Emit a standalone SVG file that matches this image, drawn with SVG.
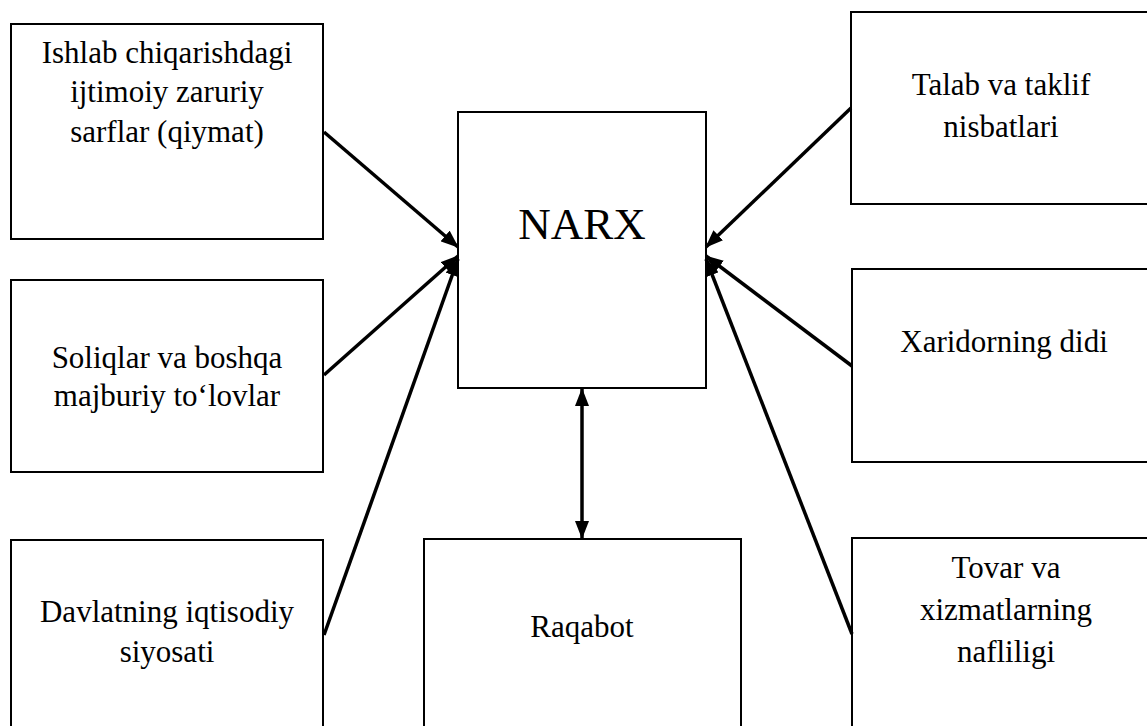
<svg xmlns="http://www.w3.org/2000/svg" width="1147" height="726" viewBox="0 0 1147 726">
  <style>
    .box { fill: #ffffff; stroke: #000000; stroke-width: 2; }
    .lbl { font-family: "Liberation Serif", "Times New Roman", serif; font-size: 31px; fill: #000000; text-anchor: middle; }
    .big { font-size: 45px; }
    .link { fill: none; stroke: #000000; stroke-width: 3.5; }
  </style>
  <defs>
    <marker id="head" viewBox="0 0 18 14" refX="17" refY="7" markerWidth="18" markerHeight="14" markerUnits="userSpaceOnUse" orient="auto-start-reverse">
      <path d="M0,0 L18,7 L0,14 z" fill="#000000"/>
    </marker>
  </defs>
  <rect width="1147" height="726" fill="#ffffff"/>

  <g id="node-cost">
    <rect class="box" x="11" y="24" width="312" height="215"/>
    <text class="lbl" x="167" y="63">Ishlab chiqarishdagi</text>
    <text class="lbl" x="167" y="102">ijtimoiy zaruriy</text>
    <text class="lbl" x="167" y="142">sarflar (qiymat)</text>
  </g>

  <g id="node-taxes">
    <rect class="box" x="11" y="280" width="312" height="192"/>
    <text class="lbl" x="167" y="368">Soliqlar va boshqa</text>
    <text class="lbl" x="167" y="406">majburiy to‘lovlar</text>
  </g>

  <g id="node-policy">
    <rect class="box" x="11" y="540" width="312" height="200"/>
    <text class="lbl" x="167" y="622">Davlatning iqtisodiy</text>
    <text class="lbl" x="167" y="662">siyosati</text>
  </g>

  <g id="node-price">
    <rect class="box" x="458" y="112" width="248" height="276"/>
    <text class="lbl big" x="582" y="239">NARX</text>
  </g>

  <g id="node-competition">
    <rect class="box" x="424" y="539" width="317" height="200"/>
    <text class="lbl" x="582" y="637">Raqabot</text>
  </g>

  <g id="node-supply-demand">
    <rect class="box" x="851" y="12" width="310" height="192"/>
    <text class="lbl" x="1001" y="95">Talab va taklif</text>
    <text class="lbl" x="1001" y="137">nisbatlari</text>
  </g>

  <g id="node-taste">
    <rect class="box" x="852" y="269" width="310" height="193"/>
    <text class="lbl" x="1004" y="352">Xaridorning didi</text>
  </g>

  <g id="node-utility">
    <rect class="box" x="852" y="538" width="310" height="200"/>
    <text class="lbl" x="1006" y="578">Tovar va</text>
    <text class="lbl" x="1006" y="620">xizmatlarning</text>
    <text class="lbl" x="1006" y="662">nafliligi</text>
  </g>

  <g id="connectors">
    <line class="link" x1="324" y1="132" x2="458" y2="247" marker-end="url(#head)"/>
    <line class="link" x1="324" y1="375" x2="458" y2="256" marker-end="url(#head)"/>
    <line class="link" x1="324" y1="635" x2="458" y2="259" marker-end="url(#head)"/>
    <line class="link" x1="851" y1="108" x2="706" y2="247" marker-end="url(#head)"/>
    <line class="link" x1="852" y1="366" x2="706" y2="256" marker-end="url(#head)"/>
    <line class="link" x1="852" y1="634" x2="706" y2="259" marker-end="url(#head)"/>
    <line class="link" x1="582" y1="389" x2="582" y2="538" marker-start="url(#head)" marker-end="url(#head)"/>
  </g>
</svg>
